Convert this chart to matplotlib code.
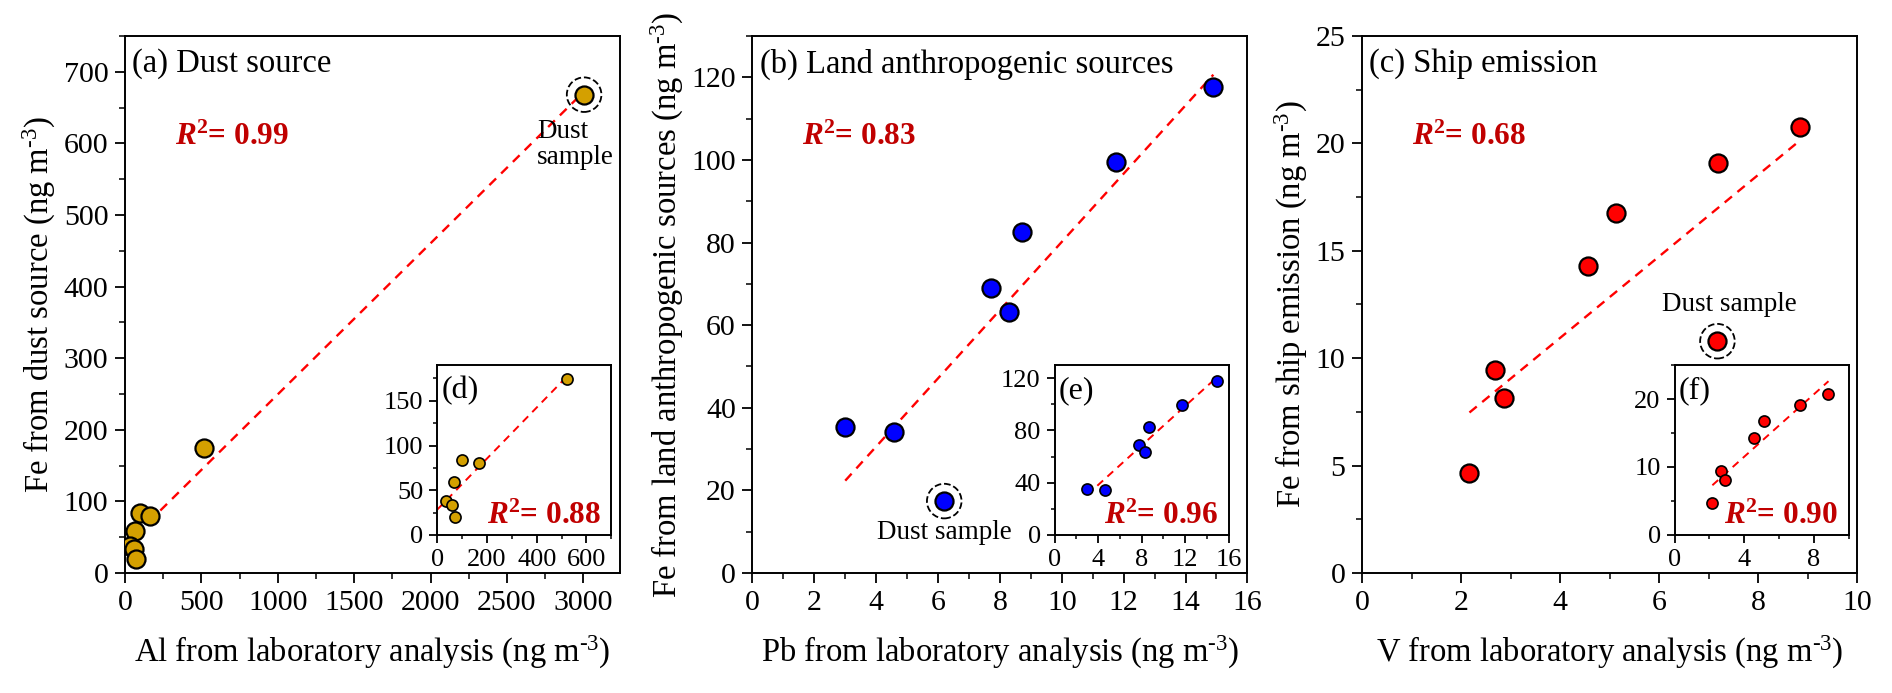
import numpy as np
import matplotlib
matplotlib.use("Agg")
import matplotlib.pyplot as plt
from matplotlib.ticker import MultipleLocator

plt.rcParams['font.family'] = ['Liberation Serif', 'DejaVu Serif']
plt.rcParams['mathtext.fontset'] = 'custom'
plt.rcParams['mathtext.rm'] = 'Liberation Serif'
plt.rcParams['mathtext.it'] = 'Liberation Serif:italic'
plt.rcParams['mathtext.bf'] = 'Liberation Serif:bold'
plt.rcParams['mathtext.bfit'] = 'Liberation Serif:italic:bold'

# --- 數據 ---
# (a) 塵埃源: Al vs Fe, 第一個點是 dust sample
al_lab = [3005, 520, 98, 166, 68, 35, 58, 73]
fe_dust = [668, 174, 84, 80, 59, 38, 34, 20]
# (b) 陸地人為源: Pb vs Fe, dust sample 在 index 2
pb_lab = [3.0, 4.59, 6.2, 7.72, 8.3, 8.7, 11.74, 14.9]
fe_land = [35.3, 34.2, 17.4, 68.9, 63.1, 82.6, 99.5, 117.6]
# (c) 船舶排放: V vs Fe, dust sample 在 index 7
v_lab = [2.17, 2.68, 2.87, 4.57, 5.14, 7.19, 8.84, 7.18]
fe_ship = [4.65, 9.45, 8.15, 14.3, 16.76, 19.07, 20.74, 10.79]

dust_idx = [0, 2, 7]
r2_main = ['0.99', '0.83', '0.68']
r2_inset = ['0.88', '0.96', '0.90']
titles = ['(a) Dust source', '(b) Land anthropogenic sources', '(c) Ship emission']
inset_tags = ['(d)', '(e)', '(f)']
unit = r' (ng m$^{\text{-3}}$)'
xlabels = ['Al from laboratory analysis' + unit,
           'Pb from laboratory analysis' + unit,
           'V from laboratory analysis' + unit]
ylabels = ['Fe from dust source' + unit,
           'Fe from land anthropogenic sources' + unit,
           'Fe from ship emission' + unit]
colors = ['#D4A000', '#0000FF', '#FF0000']

xs_all = [al_lab, pb_lab, v_lab]
ys_all = [fe_dust, fe_land, fe_ship]

# --- 版面參數 ---
main_left = [0.0661, 0.3977, 0.7199]
main_w = 0.2616
main_b, main_h = 0.1732, 0.7749
inset_left = [0.2311, 0.5574, 0.8851]
inset_w = 0.0920
inset_b, inset_h = 0.2280, 0.2453

main_lim = [((0, 3240), (0, 750)), ((0, 16), (0, 130)), ((0, 10), (0, 25))]
main_tick = [((500, 250), (100, 50)), ((2, 1), (20, 10)), ((2, 1), (5, 2.5))]
inset_lim = [((0, 700), (0, 190)), ((0, 16), (0, 130)), ((0, 10), (0, 25))]
inset_tick = [((200, 100), (50, 25)), ((4, 2), (40, 20)), ((4, 2), (10, 5))]
line_from_zero = [True, False, False]

dust_text = ['Dust\nsample', 'Dust sample', 'Dust sample']
dust_text_pos = [(2697, 598), (6.2, 9.7), (7.42, 12.5)]
dust_text_ha = ['left', 'center', 'center']

R_RED = '#C00000'


def style_axes(ax, ticks, lim, labelsize, length):
    (xmaj, xmin), (ymaj, ymin) = ticks
    ax.set_xlim(*lim[0])
    ax.set_ylim(*lim[1])
    ax.xaxis.set_major_locator(MultipleLocator(xmaj))
    ax.xaxis.set_minor_locator(MultipleLocator(xmin))
    ax.yaxis.set_major_locator(MultipleLocator(ymaj))
    ax.yaxis.set_minor_locator(MultipleLocator(ymin))
    ax.tick_params(which='major', direction='out', length=length, width=1.3,
                   labelsize=labelsize, pad=4.5, top=False, right=False)
    ax.tick_params(which='minor', direction='out', length=length * 0.55, width=1.1,
                   top=False, right=False)
    for sp in ax.spines.values():
        sp.set_linewidth(1.4)


def fit_line(ax, x, y, from_zero, lw):
    x = np.asarray(x, float)
    y = np.asarray(y, float)
    k, b = np.polyfit(x, y, 1)
    x0 = 0 if from_zero else x.min()
    xx = np.array([x0, x.max()])
    ax.plot(xx, k * xx + b, color='#FF0000', lw=lw, ls=(0, (4, 3)), zorder=2)


fig = plt.figure(figsize=(18.92, 6.93), dpi=100)

for i in range(3):
    x = np.asarray(xs_all[i], float)
    y = np.asarray(ys_all[i], float)
    d = dust_idx[i]
    ax = fig.add_axes([main_left[i], main_b, main_w, main_h])
    style_axes(ax, main_tick[i], main_lim[i], 21.5, 7.5)

    fit_line(ax, x, y, line_from_zero[i], 1.7)
    ax.plot(x, y, 'o', ms=13, mfc=colors[i], mec='black', mew=1.6, zorder=3)
    ax.scatter([x[d]], [y[d]], s=620, facecolors='none', edgecolors='black',
               linewidths=1.3, linestyles='--', zorder=4)
    ax.text(dust_text_pos[i][0], dust_text_pos[i][1], dust_text[i], fontsize=19.5,
            ha=dust_text_ha[i], va='center', linespacing=1.05)

    ax.text(0.015, 0.948, titles[i], transform=ax.transAxes, fontsize=23.5,
            ha='left', va='center')
    ax.text(0.10, 0.812, r'$\mathbfit{R}^{\mathbf{2}}$= ' + r2_main[i],
            transform=ax.transAxes, fontsize=22.5, fontweight='bold',
            color=R_RED, ha='left', va='center')
    ax.set_xlabel(xlabels[i], fontsize=23.5, labelpad=13)
    ax.set_ylabel(ylabels[i], fontsize=23.5, labelpad=4)

    # --- 插圖: 去掉 dust sample ---
    xi = np.delete(x, d)
    yi = np.delete(y, d)
    axi = fig.add_axes([inset_left[i], inset_b, inset_w, inset_h])
    style_axes(axi, inset_tick[i], inset_lim[i], 19, 5.5)
    fit_line(axi, xi, yi, line_from_zero[i], 1.4)
    axi.plot(xi, yi, 'o', ms=8, mfc=colors[i], mec='black', mew=1.2, zorder=3)
    axi.text(0.025, 0.85, inset_tags[i], transform=axi.transAxes, fontsize=23,
             ha='left', va='center')
    axi.text(0.94, 0.11, r'$\mathbfit{R}^{\mathbf{2}}$= ' + r2_inset[i],
             transform=axi.transAxes, fontsize=22.5, fontweight='bold',
             color=R_RED, ha='right', va='center')

fig.savefig('out.png', dpi=100)
